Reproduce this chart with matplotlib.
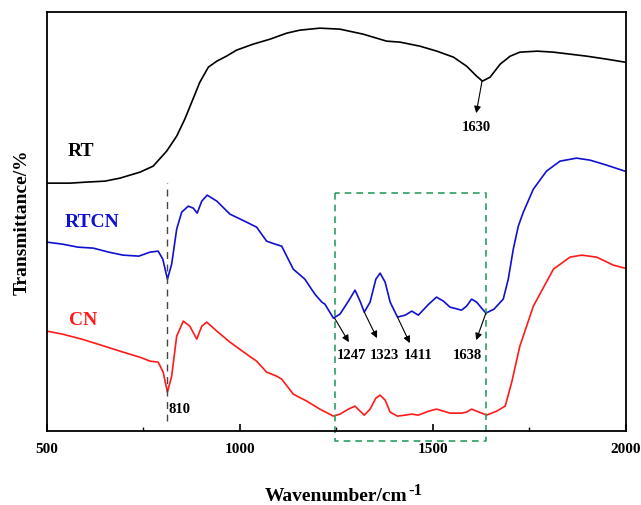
import matplotlib
matplotlib.use("Agg")
import matplotlib.pyplot as plt

# y values: relative transmittance (arbitrary units, higher = more transmittance)
rt_x = [500, 560, 600, 650, 689, 741, 775, 810, 836, 857, 875, 896, 918, 940, 965, 991, 1034, 1078, 1121, 1155, 1207, 1259, 1319, 1380, 1415, 1466, 1510, 1553, 1587, 1613, 1628, 1648, 1674, 1700, 1725, 1770, 1812, 1855, 1898, 1950, 1997]
rt_y = [248, 248, 249, 250, 253, 259, 265, 280, 295, 312, 329, 349, 364, 370, 375, 381, 387, 392, 398, 401, 403, 402, 397, 390, 389, 385, 380, 374, 365, 355, 350, 354, 367, 375, 379, 380, 379, 377, 375, 372, 369]

rtcn_x = [500, 540, 580, 620, 660, 697, 738, 767, 788, 800, 812, 823, 836, 849, 866, 879, 889, 901, 915, 940, 974, 1017, 1043, 1069, 1091, 1108, 1138, 1168, 1194, 1212, 1220, 1242, 1259, 1281, 1298, 1311, 1322, 1337, 1352, 1363, 1376, 1389, 1408, 1428, 1445, 1462, 1489, 1509, 1527, 1544, 1574, 1587, 1600, 1613, 1637, 1658, 1682, 1695, 1708, 1721, 1734, 1760, 1794, 1829, 1872, 1907, 1950, 1997]
rtcn_y = [189, 187, 184, 183, 179, 176, 175, 179, 180, 172, 152, 167, 202, 219, 225, 223, 218, 230, 236, 230, 217, 209, 204, 190, 187, 185, 162, 152, 137, 129, 127, 113, 117, 130, 141, 130, 119, 129, 152, 158, 149, 129, 114, 116, 120, 116, 127, 134, 130, 124, 121, 125, 132, 129, 118, 122, 132, 152, 182, 205, 219, 242, 260, 270, 273, 271, 266, 260]

cn_x = [500, 540, 590, 640, 697, 740, 767, 788, 801, 812, 823, 836, 853, 870, 888, 901, 914, 940, 974, 1017, 1043, 1069, 1095, 1108, 1138, 1173, 1207, 1242, 1259, 1281, 1298, 1311, 1322, 1337, 1352, 1363, 1376, 1389, 1408, 1428, 1445, 1462, 1489, 1509, 1527, 1544, 1574, 1587, 1600, 1613, 1639, 1665, 1687, 1704, 1725, 1760, 1812, 1855, 1885, 1924, 1967, 1997]
cn_y = [100, 97, 92, 86, 79, 74, 70, 69, 59, 39, 55, 95, 110, 105, 92, 105, 109, 100, 89, 77, 70, 59, 55, 52, 37, 30, 22, 15, 17, 22, 25, 20, 16, 22, 33, 36, 31, 19, 15, 16, 17, 16, 20, 22, 20, 18, 18, 19, 22, 20, 16, 20, 25, 49, 85, 125, 162, 174, 176, 174, 166, 163]

peak_labels_rtcn = [1247, 1323, 1411, 1638]
peak_label_rt = 1630
peak_label_cn = 810
box_x = [1247, 1638]

plt.rcParams['font.family'] = ['Liberation Serif', 'DejaVu Serif']
plt.rcParams['font.weight'] = 'bold'

BLUE = '#1010d0'
RED = '#ff1a1a'

fig = plt.figure(figsize=(6.41, 5.06), dpi=100)
ax = fig.add_axes([0.0733, 0.146, 0.9033, 0.828])

ax.plot(rt_x, rt_y, color='black', lw=1.2)
ax.plot(rtcn_x, rtcn_y, color=BLUE, lw=1.2)
ax.plot(cn_x, cn_y, color=RED, lw=1.2)

ax.set_xlim(500, 2000)
ax.set_ylim(0, 419)

ax.text(0.035, 0.66, 'RT', transform=ax.transAxes, fontsize=14, fontweight='bold', color='black')
ax.text(0.03, 0.49, 'RTCN', transform=ax.transAxes, fontsize=14, fontweight='bold', color=BLUE)
ax.text(0.038, 0.255, 'CN', transform=ax.transAxes, fontsize=14, fontweight='bold', color=RED)

ax.plot([peak_label_cn, peak_label_cn], [10, 248], color='#444444', lw=1.0, ls=(0, (5, 4)))
ax.text(peak_label_cn + 6, 23, str(peak_label_cn), fontsize=10.5, fontweight='bold', va='center', ha='left')

bx0, bx1 = box_x
ax.plot([bx0, bx0, bx1, bx1, bx0], [238, -10, -10, 238, 238], color='#2e9e62', lw=1.2,
        ls=(0, (4, 3)), clip_on=False)

arrowprops = dict(arrowstyle='-|>', color='black', lw=0.8, mutation_scale=10, shrinkA=0, shrinkB=0)

ax.annotate('', xy=(1612, 318), xytext=(1627, 350), arrowprops=arrowprops)
ax.text(1612, 305, str(peak_label_rt), fontsize=10.5, fontweight='bold', ha='center', va='center')

rtcn_ann = [(1245, 113, 1282, 89, 1290), (1322, 119, 1355, 93, 1375), (1408, 114, 1440, 88, 1462), (1637, 118, 1612, 91, 1590)]
for (x0, y0, x1, y1, tx), lab in zip(rtcn_ann, peak_labels_rtcn):
    ax.annotate('', xy=(x1, y1), xytext=(x0, y0), arrowprops=arrowprops)
    ax.text(tx, 77, str(lab), fontsize=10.5, fontweight='bold', ha='center', va='center')

ax.set_yticks([])
ax.set_xticks([500, 1000, 1500, 2000])
ax.set_xticks([750, 1250, 1750], minor=True)
ax.tick_params(axis='x', which='major', direction='in', length=5, width=1.2, labelsize=11, pad=8)
ax.tick_params(axis='x', which='minor', direction='in', length=3, width=1.0)
for lab in ax.get_xticklabels():
    lab.set_fontweight('bold')
for sp in ax.spines.values():
    sp.set_linewidth(1.3)

xl = ax.set_xlabel('Wavenumber/cm', fontsize=14, fontweight='bold', labelpad=23)
ax.set_ylabel('Transmittance/%', fontsize=14, fontweight='bold', labelpad=12)

fig.canvas.draw()
bb = xl.get_window_extent(fig.canvas.get_renderer())
fig.text((bb.x1 + 1) / fig.bbox.width, (bb.y1 - 3) / fig.bbox.height, '-1',
         fontsize=12, fontweight='bold', ha='left', va='center')

fig.savefig('out.png', dpi=100)
